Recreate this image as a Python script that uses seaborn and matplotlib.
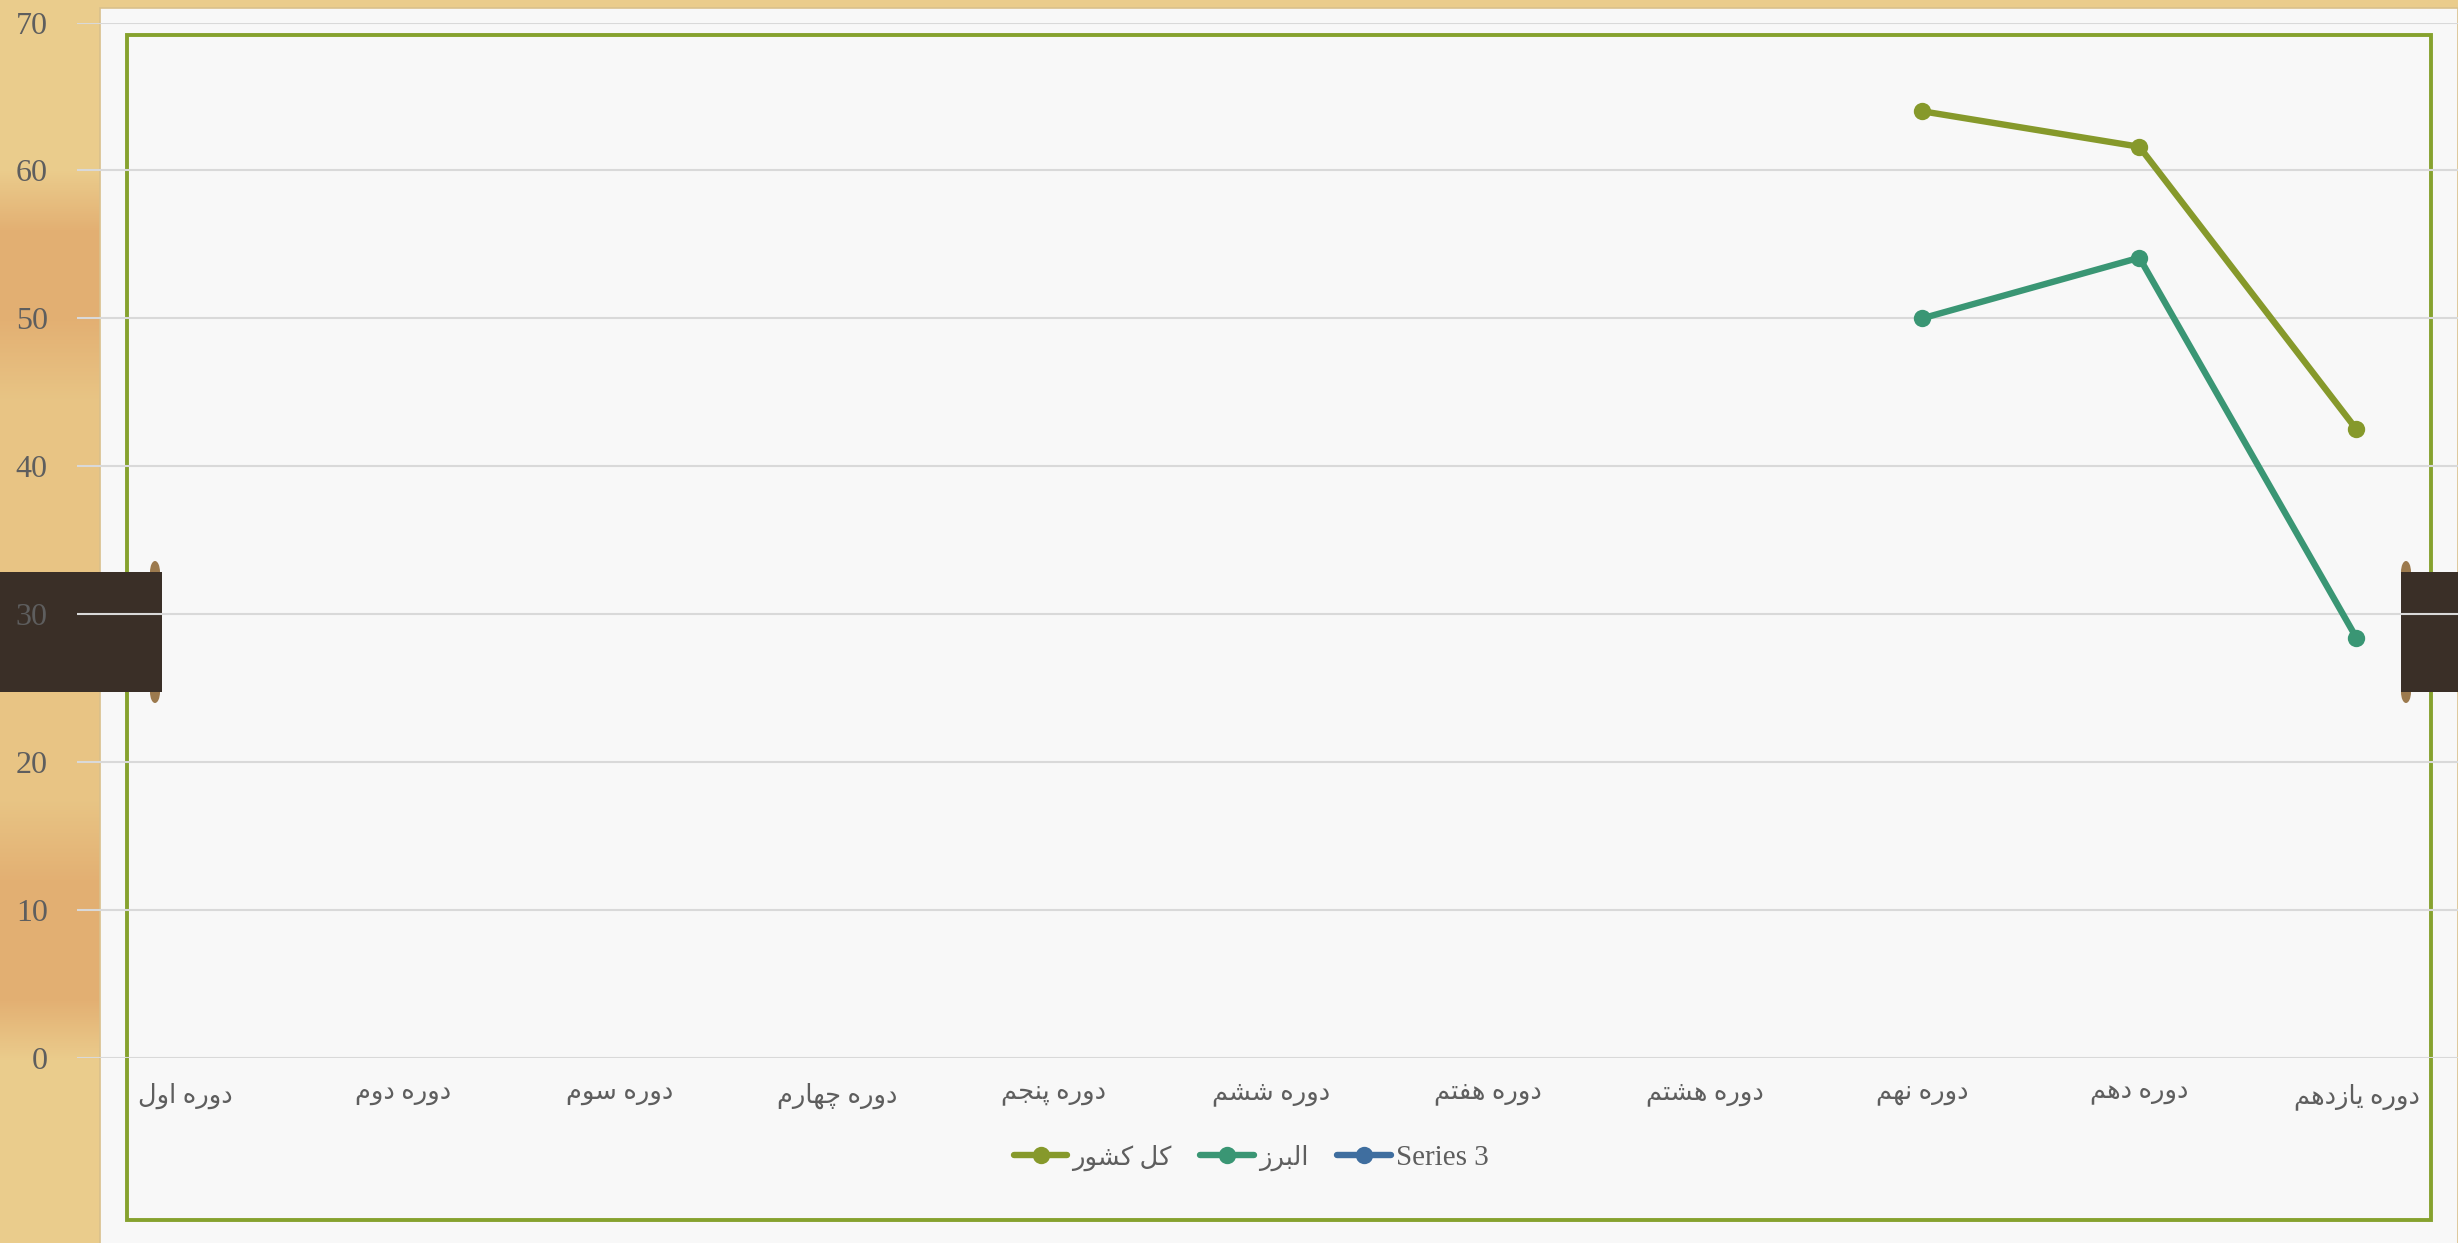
import numpy as np
import pandas as pd
import matplotlib
matplotlib.use("Agg")
import matplotlib.pyplot as plt
import seaborn as sns
from matplotlib.patches import Rectangle, Ellipse
from matplotlib.lines import Line2D

# ---- data ----
periods = ["دوره اول", "دوره دوم", "دوره سوم", "دوره چهارم", "دوره پنجم", "دوره ششم",
           "دوره هفتم", "دوره هشتم", "دوره نهم", "دوره دهم", "دوره یازدهم"]
series_names = ["کل کشور", "البرز", "Series 3"]
kol_keshvar = [np.nan, np.nan, np.nan, np.nan, np.nan, np.nan, np.nan, np.nan, 64.0, 61.6, 42.5]
alborz = [np.nan, np.nan, np.nan, np.nan, np.nan, np.nan, np.nan, np.nan, 50.0, 54.1, 28.4]
series3 = [np.nan, np.nan, np.nan, np.nan, np.nan, np.nan, np.nan, np.nan, np.nan, np.nan, np.nan]
yticks = [0, 10, 20, 30, 40, 50, 60, 70]
colors = ["#86992B", "#3A9674", "#3F6E9F"]

# ---- simple Persian shaping (matplotlib has no complex text layout) ----
FORMS = {
    "ا": ("\uFE8D", "\uFE8E", None, None),
    "ب": ("\uFE8F", "\uFE90", "\uFE91", "\uFE92"),
    "پ": ("\uFB56", "\uFB57", "\uFB58", "\uFB59"),
    "ت": ("\uFE95", "\uFE96", "\uFE97", "\uFE98"),
    "ج": ("\uFE9D", "\uFE9E", "\uFE9F", "\uFEA0"),
    "چ": ("\uFB7A", "\uFB7B", "\uFB7C", "\uFB7D"),
    "د": ("\uFEA9", "\uFEAA", None, None),
    "ر": ("\uFEAD", "\uFEAE", None, None),
    "ز": ("\uFEAF", "\uFEB0", None, None),
    "س": ("\uFEB1", "\uFEB2", "\uFEB3", "\uFEB4"),
    "ش": ("\uFEB5", "\uFEB6", "\uFEB7", "\uFEB8"),
    "ف": ("\uFED1", "\uFED2", "\uFED3", "\uFED4"),
    "ک": ("\uFB8E", "\uFB8F", "\uFB90", "\uFB91"),
    "ل": ("\uFEDD", "\uFEDE", "\uFEDF", "\uFEE0"),
    "م": ("\uFEE1", "\uFEE2", "\uFEE3", "\uFEE4"),
    "ن": ("\uFEE5", "\uFEE6", "\uFEE7", "\uFEE8"),
    "ه": ("\uFEE9", "\uFEEA", "\uFEEB", "\uFEEC"),
    "و": ("\uFEED", "\uFEEE", None, None),
    "ی": ("\uFBFC", "\uFBFD", "\uFBFE", "\uFBFF"),
}


def fa(text):
    if not any(c in FORMS for c in text):
        return text
    out = []
    for i, c in enumerate(text):
        if c not in FORMS:
            out.append(c)
            continue
        iso, fin, ini, med = FORMS[c]
        prev = text[i - 1] if i > 0 else None
        nxt = text[i + 1] if i + 1 < len(text) else None
        jp = prev in FORMS and FORMS[prev][2] is not None
        jn = nxt in FORMS and ini is not None
        if jp and jn:
            out.append(med)
        elif jp:
            out.append(fin)
        elif jn:
            out.append(ini)
        else:
            out.append(iso)
    return "".join(reversed(out))


df = pd.DataFrame({
    "pos": list(range(len(periods))) * 3,
    "value": kol_keshvar + alborz + series3,
    "series": [n for n in series_names for _ in periods],
})

sns.set_style("white")
plt.rcParams["font.family"] = ["Liberation Serif", "DejaVu Sans"]
txt_color = "#5E5E5E"

W, H = 2458, 1243
fig = plt.figure(figsize=(W / 100, H / 100), dpi=100)

# ---- background: wood strip, paper, frame, dark tabs ----
bg = fig.add_axes([0, 0, 1, 1], zorder=0)
bg.set_xlim(0, W)
bg.set_ylim(H, 0)
bg.axis("off")
light = [0.92, 0.80, 0.55]
orange = [0.89, 0.69, 0.45]
mid = [0.91, 0.77, 0.52]
stops_y = [0, 170, 230, 320, 400, 560, 800, 880, 1000, 1060, 1243]
stops_c = np.array([light, light, orange, orange, mid, mid, mid, orange, orange, light, light])
yy = np.arange(H)
grad = np.array([np.interp(yy, stops_y, stops_c[:, k]) for k in range(3)]).T
bg.imshow(grad[:, None, :], extent=(0, W, H, 0), aspect="auto", zorder=0)
bg.add_patch(Rectangle((100, 8), W - 100, H, facecolor="#F8F8F8", edgecolor="#D9C08C", lw=1.2, zorder=1))
bg.add_patch(Rectangle((127, 35), 2431 - 127, 1220 - 35, facecolor="none", edgecolor="#86A22E", lw=2.8, zorder=2))
for x0, x1, tx in [(0, 162, 155), (2401, W, 2406)]:
    for ty in (572, 692):
        bg.add_patch(Ellipse((tx, ty), 10, 22, facecolor="#9C7A4E", edgecolor="none", zorder=3))
    bg.add_patch(Rectangle((x0, 572), x1 - x0, 120, facecolor="#3A2F27", edgecolor="none", zorder=4))

# ---- chart ----
ax = fig.add_axes([77 / W, 1 - 1058 / H, 2388 / W, 1035.5 / H], zorder=1)
ax.set_facecolor("none")
sns.lineplot(data=df, x="pos", y="value", hue="series", hue_order=series_names,
             palette=colors, marker="o", markersize=12.5, markeredgewidth=0,
             legend=False, sort=False, ax=ax)
for ln in ax.lines:
    ln.set_linewidth(4.6)

ax.set_xlim(-0.5, len(periods) - 0.5)
ax.set_ylim(0, 70)
ax.set_yticks(yticks)
ax.set_yticklabels([str(v) for v in yticks], fontsize=23, color=txt_color)
ax.set_xticks(range(len(periods)))
ax.set_xticklabels([fa(p) for p in periods], fontsize=18.5, color=txt_color)
ax.tick_params(axis="y", length=0, pad=21)
ax.tick_params(axis="x", length=0, pad=18)
ax.yaxis.grid(True, color="#D9D9D9", lw=1.5)
ax.xaxis.grid(False)
ax.set_xlabel("")
ax.set_ylabel("")
for s in ax.spines.values():
    s.set_visible(False)

handles = [Line2D([], [], color=c, lw=4.6, marker="o", markersize=12.5, markeredgewidth=0) for c in colors]
leg = fig.legend(handles, [fa(n) for n in series_names], loc="center",
                 bbox_to_anchor=(1251 / W, 1 - 1158 / H), ncol=3, frameon=False,
                 fontsize=21, handlelength=1.85, handletextpad=0.15, columnspacing=1.0)
for t, n in zip(leg.get_texts(), series_names):
    t.set_color(txt_color)
    if n != "Series 3":
        t.set_fontsize(18.5)

fig.savefig("out.png", dpi=100)
